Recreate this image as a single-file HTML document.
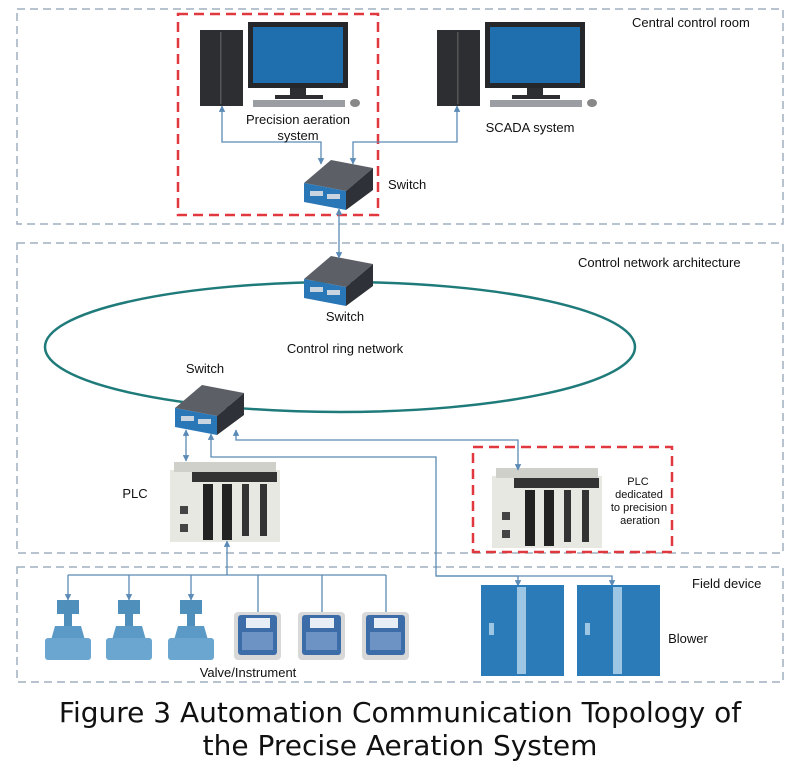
<!DOCTYPE html>
<html><head><meta charset="utf-8"><style>
body{margin:0;background:#fff;}
svg{display:block;font-family:"Liberation Sans",sans-serif;}
</style></head><body>
<svg width="800" height="770" viewBox="0 0 800 770" xmlns="http://www.w3.org/2000/svg">
<defs>
<marker id="ar" viewBox="0 0 10 10" refX="9" refY="5" markerWidth="5" markerHeight="5" orient="auto-start-reverse"><path d="M0,0L10,5L0,10z" fill="#5a8ab5"/></marker>
<g id="sw">
<path d="M3,23 L30,0 L72,8 L45,31z" fill="#5c6066"/>
<path d="M45,31 L72,8 L72,30 L45,50z" fill="#2e3238"/>
<path d="M3,23 L45,31 L45,50 L3,42z" fill="#2a77b8"/>
<rect x="9" y="31" width="13" height="5" fill="#c8d4e0"/><rect x="26" y="34" width="13" height="5" fill="#c8d4e0"/>
</g>
<g id="pc">
<rect x="0" y="8" width="43" height="76" fill="#2c2e31"/><rect x="20" y="10" width="1.5" height="72" fill="#555"/>
<rect x="48" y="0" width="100" height="66" fill="#25272a"/><rect x="53" y="5" width="90" height="56" fill="#1f6fae"/>
<rect x="90" y="66" width="16" height="9" fill="#2c2e31"/><rect x="75" y="73" width="48" height="4" fill="#2c2e31"/>
<rect x="53" y="78" width="92" height="7" fill="#9a9ea3"/><ellipse cx="155" cy="81" rx="5" ry="4" fill="#888"/>
</g>
<g id="plc">
<rect x="0" y="8" width="110" height="72" fill="#e8e8e2"/>
<rect x="4" y="0" width="102" height="10" fill="#d0d0ca"/>
<rect x="22" y="10" width="85" height="10" fill="#333"/>
<rect x="33" y="22" width="10" height="56" fill="#222"/><rect x="52" y="22" width="10" height="56" fill="#222"/><rect x="72" y="22" width="7" height="52" fill="#333"/><rect x="90" y="22" width="7" height="52" fill="#333"/>
<rect x="10" y="44" width="8" height="8" fill="#444"/><rect x="10" y="62" width="8" height="8" fill="#444"/>
</g>
<g id="valve">
<rect x="12" y="0" width="22" height="14" fill="#4e8fbc"/><rect x="19" y="14" width="8" height="12" fill="#4e8fbc"/>
<path d="M10,26 L36,26 L40,40 L6,40z" fill="#5b9ac6"/><rect x="0" y="38" width="46" height="22" rx="3" fill="#6aa6cf"/>
</g>
<g id="inst">
<rect x="0" y="0" width="47" height="48" rx="4" fill="#d8d8d8"/><rect x="4" y="3" width="39" height="40" rx="3" fill="#3d6da8"/><rect x="12" y="6" width="24" height="10" fill="#e8eef5"/>
<rect x="8" y="20" width="31" height="18" fill="#6d93c4"/>
</g>
<g id="blow"><rect x="0" y="0" width="83" height="91" fill="#2a7bb7"/><rect x="36" y="2" width="9" height="87" fill="#9cc6e4"/><rect x="8" y="38" width="5" height="12" fill="#9cc6e4"/></g>
</defs>
<g fill="none" stroke="#9fb0bf" stroke-width="1.5" stroke-dasharray="8,5">
<rect x="17" y="9" width="766" height="215"/>
<rect x="17" y="243" width="766" height="310"/>
<rect x="17" y="567" width="766" height="115"/>
</g>
<g fill="none" stroke="#e0383e" stroke-width="2.5" stroke-dasharray="10,6">
<rect x="178" y="14" width="200" height="201"/>
<rect x="473" y="447" width="199" height="105"/>
</g>
<use href="#pc" x="200" y="22"/>
<use href="#pc" x="437" y="22"/>
<ellipse cx="340" cy="347" rx="295" ry="65" fill="none" stroke="#1f7a7a" stroke-width="2.5"/>
<use href="#sw" x="301" y="160"/>
<use href="#sw" x="301" y="256"/>
<use href="#sw" x="172" y="385"/>
<use href="#plc" x="170" y="462"/>
<use href="#plc" x="492" y="468"/>
<g fill="none" stroke="#5a8ab5" stroke-width="1.3">
<path d="M222,106 V142 H321 V164" marker-start="url(#ar)" marker-end="url(#ar)"/>
<path d="M457,106 V142 H353 V164" marker-start="url(#ar)" marker-end="url(#ar)"/>
<path d="M339,209 V258" marker-start="url(#ar)" marker-end="url(#ar)"/>
<path d="M186,430 V461" marker-start="url(#ar)" marker-end="url(#ar)"/>
<path d="M236,430 V440 H518 V470" marker-start="url(#ar)" marker-end="url(#ar)"/>
<path d="M211,434 V457 H436 V576 H518 V586" marker-start="url(#ar)" marker-end="url(#ar)"/>
<path d="M436,576 H612 V586" marker-end="url(#ar)"/>
<path d="M227,575 V541" marker-end="url(#ar)"/>
<path d="M68,575 H386"/>
<path d="M68,575 V600" marker-end="url(#ar)"/><path d="M129,575 V600" marker-end="url(#ar)"/><path d="M191,575 V600" marker-end="url(#ar)"/>
<path d="M258,575 V612"/><path d="M322,575 V612"/><path d="M386,575 V612"/>
</g>
<use href="#valve" x="45" y="600"/><use href="#valve" x="106" y="600"/><use href="#valve" x="168" y="600"/>
<use href="#inst" x="234" y="612"/><use href="#inst" x="298" y="612"/><use href="#inst" x="362" y="612"/>
<use href="#blow" x="481" y="585"/><use href="#blow" x="577" y="585"/>
<g font-size="13" fill="#111">
<text x="632" y="27">Central control room</text>
<text x="298" y="124" text-anchor="middle">Precision aeration</text>
<text x="298" y="140" text-anchor="middle">system</text>
<text x="530" y="132" text-anchor="middle">SCADA system</text>
<text x="388" y="189">Switch</text>
<text x="578" y="267">Control network architecture</text>
<text x="345" y="321" text-anchor="middle">Switch</text>
<text x="345" y="353" text-anchor="middle">Control ring network</text>
<text x="205" y="373" text-anchor="middle">Switch</text>
<text x="135" y="498" text-anchor="middle">PLC</text>
<g font-size="11" text-anchor="middle"><text x="638" y="485">PLC</text><text x="639" y="498">dedicated</text><text x="639" y="511">to precision</text><text x="640" y="524">aeration</text></g>
<text x="692" y="588">Field device</text>
<text x="688" y="643" text-anchor="middle">Blower</text>
<text x="248" y="677" text-anchor="middle">Valve/Instrument</text>
</g>
<g font-family="'DejaVu Sans',sans-serif" font-size="28" fill="#111" text-anchor="middle">
<text x="400" y="722">Figure 3 Automation Communication Topology of</text>
<text x="400" y="755">the Precise Aeration System</text>
</g>
</svg>
</body></html>
